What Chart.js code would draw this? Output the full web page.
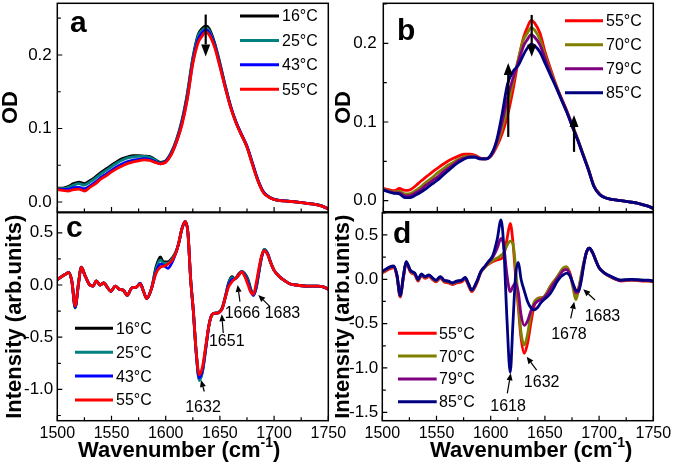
<!DOCTYPE html>
<html><head><meta charset="utf-8">
<script src="https://cdn.jsdelivr.net/npm/chart.js@4.4.1/dist/chart.umd.min.js"></script>
<style>
html,body{margin:0;padding:0;background:#fff;}
#wrap{position:relative;width:675px;height:469px;overflow:hidden;background:#fff;}
canvas{position:absolute;}
</style></head><body>
<div id="wrap">
<canvas id="ca" width="350" height="213" style="left:0px;top:0px;width:350px;height:213px"></canvas>
<canvas id="cb" width="340" height="213" style="left:335px;top:0px;width:340px;height:213px"></canvas>
<canvas id="cc" width="350" height="264" style="left:0px;top:205px;width:350px;height:264px"></canvas>
<canvas id="cd" width="340" height="264" style="left:335px;top:205px;width:340px;height:264px"></canvas>
</div>
<script>
// ---------- data ----------
const wnTop = [1500,1505,1510,1515,1520,1525,1530,1535,1540,1545,1550,1555,1560,1565,1570,1575,1580,1585,1590,1595,1600,1605,1610,1615,1620,1625,1630,1633,1637,1640,1645,1650,1655,1660,1665,1670,1675,1680,1685,1690,1695,1700,1705,1710,1715,1720,1725,1730,1735,1740,1745,1750];

const odA16 = [0.019,0.019,0.021,0.025,0.027,0.025,0.029,0.034,0.040,0.045,0.050,0.055,0.059,0.0615,0.063,0.063,0.0625,0.062,0.058,0.054,0.056,0.067,0.085,0.111,0.148,0.196,0.228,0.235,0.2395,0.236,0.217,0.189,0.158,0.130,0.108,0.091,0.075,0.052,0.030,0.014,0.0072,0.0036,0.0022,0.0015,0.0008,0.0001,-0.0006,-0.0019,-0.0026,-0.0039,-0.0059,-0.0095];
const odA25 = [0.018,0.018,0.0195,0.023,0.025,0.023,0.027,0.032,0.038,0.043,0.048,0.053,0.057,0.060,0.0615,0.062,0.062,0.061,0.057,0.053,0.055,0.066,0.084,0.109,0.146,0.194,0.226,0.2325,0.237,0.2335,0.215,0.187,0.157,0.129,0.108,0.091,0.075,0.052,0.030,0.014,0.0071,0.0035,0.0021,0.0015,0.0008,0.0001,-0.0006,-0.0019,-0.0026,-0.0039,-0.0059,-0.0095];
const odA43 = [0.017,0.017,0.017,0.0195,0.020,0.018,0.022,0.027,0.033,0.038,0.043,0.048,0.052,0.055,0.057,0.058,0.059,0.058,0.055,0.052,0.055,0.065,0.082,0.107,0.142,0.190,0.221,0.229,0.234,0.2305,0.213,0.186,0.156,0.129,0.108,0.092,0.076,0.053,0.030,0.014,0.0070,0.0035,0.0021,0.0015,0.0008,0.0001,-0.0006,-0.0019,-0.0026,-0.0039,-0.0059,-0.0095];
const odA55 = [0.0167,0.0157,0.0148,0.017,0.0175,0.0148,0.0198,0.0246,0.031,0.0355,0.041,0.0454,0.049,0.0526,0.0546,0.056,0.0574,0.0567,0.054,0.052,0.054,0.064,0.082,0.105,0.140,0.188,0.217,0.2245,0.231,0.2275,0.211,0.184,0.155,0.128,0.107,0.091,0.0746,0.051,0.029,0.013,0.0068,0.0034,0.002,0.0014,0.0007,0,-0.0007,-0.002,-0.0027,-0.004,-0.006,-0.0096];

const odB55 = [0.0157,0.014,0.0127,0.0155,0.013,0.014,0.019,0.025,0.0305,0.036,0.041,0.046,0.0505,0.054,0.057,0.059,0.059,0.0575,0.054,0.053,0.057,0.0686,0.085,0.108,0.140,0.178,0.208,0.219,0.229,0.226,0.213,0.188,0.167,0.147,0.130,0.114,0.096,0.078,0.059,0.040,0.019,0.009,0.004,0.002,0.001,0.000,-0.001,-0.002,-0.003,-0.005,-0.007,-0.0097];
const odB70 = [0.015,0.0125,0.011,0.012,0.0085,0.009,0.013,0.018,0.024,0.029,0.035,0.040,0.045,0.049,0.053,0.056,0.057,0.0565,0.0535,0.053,0.058,0.071,0.092,0.119,0.150,0.180,0.205,0.212,0.220,0.217,0.205,0.184,0.164,0.146,0.129,0.113,0.095,0.078,0.059,0.040,0.019,0.009,0.004,0.002,0.001,0.000,-0.001,-0.002,-0.003,-0.005,-0.007,-0.0097];
const odB79 = [0.014,0.012,0.010,0.010,0.006,0.0065,0.010,0.0145,0.020,0.025,0.030,0.036,0.041,0.046,0.051,0.054,0.056,0.056,0.053,0.053,0.058,0.074,0.100,0.131,0.155,0.176,0.197,0.204,0.211,0.208,0.198,0.180,0.161,0.145,0.129,0.113,0.095,0.077,0.058,0.039,0.0185,0.0085,0.004,0.002,0.001,0.000,-0.001,-0.002,-0.003,-0.005,-0.007,-0.0097];
const odB85 = [0.0136,0.011,0.0094,0.0085,0.004,0.004,0.0072,0.011,0.0157,0.021,0.026,0.032,0.038,0.044,0.049,0.053,0.055,0.055,0.053,0.053,0.059,0.077,0.110,0.148,0.164,0.172,0.186,0.193,0.199,0.197,0.189,0.174,0.159,0.144,0.128,0.112,0.094,0.077,0.058,0.039,0.018,0.008,0.004,0.002,0.001,0.000,-0.001,-0.002,-0.003,-0.005,-0.007,-0.0097];

const wnBot = [1500,1504,1507,1510.5,1513.5,1516.5,1519.5,1522,1526,1530,1533,1536,1539.5,1543,1546,1549.5,1553.5,1557,1561,1564.5,1568.5,1573,1576.5,1579.5,1582.5,1587,1591,1595,1598,1602,1606,1609.5,1612,1615,1618,1620.5,1623,1625.5,1628,1631,1634,1637,1640,1643,1646,1649,1652,1655,1658,1661,1664,1667,1670,1673,1676,1678.5,1681,1683.5,1686,1688.5,1691,1694,1697,1700,1705,1710,1715,1720,1730,1740,1746,1750];

const dC16 = [0.05,0.08,0.10,0.12,0.03,-0.22,0.01,0.17,0.08,0.00,-0.01,0.04,0.00,0.02,-0.02,-0.06,-0.01,-0.04,-0.05,-0.10,-0.03,-0.02,0.015,-0.06,-0.13,-0.03,0.17,0.27,0.22,0.22,0.26,0.32,0.40,0.54,0.60,0.50,0.06,-0.25,-0.63,-0.90,-0.82,-0.60,-0.38,-0.28,-0.27,-0.26,-0.22,-0.11,0.02,0.08,0.06,0.10,0.13,0.11,0.05,-0.04,-0.09,-0.03,0.12,0.27,0.34,0.30,0.21,0.14,0.08,0.04,0.01,0.00,-0.01,-0.01,-0.02,-0.04];
const dC25 = [0.05,0.08,0.10,0.12,0.03,-0.215,0.01,0.17,0.08,0.00,-0.01,0.04,0.00,0.02,-0.02,-0.06,-0.01,-0.04,-0.05,-0.10,-0.03,-0.02,0.015,-0.06,-0.13,-0.03,0.15,0.24,0.21,0.21,0.25,0.32,0.40,0.54,0.61,0.50,0.06,-0.25,-0.63,-0.915,-0.83,-0.61,-0.38,-0.28,-0.27,-0.26,-0.225,-0.115,0.01,0.07,0.06,0.09,0.13,0.10,0.04,-0.05,-0.10,-0.02,0.13,0.27,0.34,0.30,0.21,0.14,0.08,0.04,0.01,0.00,-0.01,-0.01,-0.02,-0.04];
const dC43 = [0.05,0.08,0.10,0.12,0.03,-0.21,0.01,0.17,0.08,0.00,-0.01,0.04,0.00,0.02,-0.02,-0.06,-0.01,-0.04,-0.05,-0.10,-0.03,-0.02,0.015,-0.06,-0.13,-0.03,0.12,0.20,0.19,0.16,0.22,0.31,0.40,0.54,0.61,0.50,0.06,-0.25,-0.63,-0.89,-0.81,-0.60,-0.38,-0.28,-0.27,-0.265,-0.23,-0.12,0.00,0.05,0.06,0.09,0.125,0.09,0.02,-0.06,-0.10,-0.01,0.14,0.27,0.33,0.30,0.21,0.14,0.08,0.04,0.01,0.00,-0.01,-0.01,-0.02,-0.04];
const dC55 = [0.05,0.08,0.10,0.12,0.03,-0.20,0.01,0.17,0.08,0.00,-0.01,0.04,0.00,0.02,-0.02,-0.06,-0.01,-0.04,-0.05,-0.10,-0.03,-0.02,0.01,-0.06,-0.13,-0.03,0.11,0.17,0.18,0.20,0.24,0.31,0.40,0.54,0.61,0.50,0.06,-0.25,-0.62,-0.86,-0.78,-0.58,-0.38,-0.28,-0.27,-0.265,-0.23,-0.12,-0.02,0.03,0.06,0.09,0.125,0.08,0.00,-0.07,-0.09,0.02,0.16,0.28,0.33,0.29,0.21,0.14,0.08,0.04,0.01,0.00,-0.01,-0.01,-0.02,-0.04];

const dD55 = [0.07,0.10,0.12,0.13,0.03,-0.20,0.02,0.18,0.08,0.05,-0.02,0.04,0.01,0.03,0.00,-0.03,0.01,-0.03,-0.04,-0.06,-0.04,-0.03,0.00,-0.07,-0.14,-0.05,0.08,0.14,0.17,0.20,0.22,0.23,0.27,0.45,0.63,0.42,0.03,-0.32,-0.66,-0.835,-0.72,-0.50,-0.30,-0.22,-0.21,-0.20,-0.15,-0.08,-0.03,0.02,0.07,0.12,0.14,0.07,-0.07,-0.16,-0.10,0.03,0.19,0.31,0.35,0.30,0.21,0.13,0.07,0.03,0.00,-0.02,-0.01,-0.02,-0.02,-0.03];
const dD70 = [0.08,0.11,0.13,0.14,0.04,-0.19,0.03,0.19,0.09,0.06,-0.01,0.05,0.02,0.04,0.01,-0.02,0.02,-0.02,-0.03,-0.05,-0.03,-0.02,0.01,-0.06,-0.13,-0.04,0.08,0.14,0.18,0.21,0.24,0.27,0.30,0.38,0.43,0.40,0.13,-0.25,-0.60,-0.74,-0.62,-0.40,-0.26,-0.22,-0.21,-0.20,-0.15,-0.08,-0.03,0.02,0.08,0.13,0.14,0.06,-0.10,-0.23,-0.12,0.05,0.20,0.31,0.35,0.30,0.21,0.13,0.07,0.03,0.00,-0.01,-0.01,-0.01,-0.02,-0.02];
const dD79 = [0.085,0.115,0.135,0.145,0.045,-0.185,0.035,0.195,0.095,0.065,-0.005,0.055,0.025,0.045,0.015,-0.015,0.025,-0.015,-0.025,-0.045,-0.025,-0.015,0.015,-0.055,-0.125,-0.035,0.09,0.15,0.20,0.25,0.35,0.46,0.38,0.05,-0.14,-0.08,-0.04,-0.15,-0.40,-0.52,-0.47,-0.36,-0.29,-0.25,-0.23,-0.21,-0.17,-0.11,-0.05,0.00,0.05,0.10,0.11,0.06,-0.06,-0.15,-0.14,0.00,0.18,0.31,0.35,0.30,0.21,0.13,0.07,0.035,0.005,-0.015,-0.005,-0.015,-0.015,-0.025];
const dD85 = [0.09,0.12,0.14,0.15,0.05,-0.18,0.04,0.20,0.10,0.07,0.00,0.06,0.03,0.05,0.02,-0.01,0.03,-0.01,-0.02,-0.04,-0.02,-0.01,0.02,-0.05,-0.12,-0.03,0.09,0.15,0.20,0.27,0.45,0.67,0.38,-0.45,-1.05,-0.50,0.05,0.19,0.00,-0.13,-0.25,-0.32,-0.345,-0.32,-0.27,-0.23,-0.20,-0.16,-0.10,-0.03,0.02,0.05,0.07,0.04,-0.05,-0.12,-0.13,-0.02,0.17,0.31,0.35,0.30,0.21,0.13,0.07,0.04,0.01,-0.01,0.00,-0.01,-0.01,-0.02];

const labelsA = ['16°C','25°C','43°C','55°C'];
const labelsB = ['55°C','70°C','79°C','85°C'];
const xTickLabels = [1500,1550,1600,1650,1700,1750];

// peak annotations: [text, labelX, labelY, tailX, tailY, tipX, tipY] (data units)
const notesC = [
  ['1632',1634.4,-1.175,1635.6,-1.02,1632.6,-0.91],
  ['1651',1656.3,-0.54,1653.1,-0.46,1651.7,-0.28],
  ['1666',1670.8,-0.278,1668.5,-0.16,1666.4,0.0],
  ['1683',1707.7,-0.278,1696.2,-0.207,1685.4,-0.095]
];
const notesD = [
  ['1618',1616,-1.438,1615.3,-1.287,1618.5,-1.06],
  ['1632',1647,-1.168,1642.4,-1.025,1633.2,-0.874],
  ['1678',1672.2,-0.628,1673.8,-0.44,1677.1,-0.253],
  ['1683',1703.1,-0.422,1696.2,-0.234,1685.4,-0.113]
];
// trend arrows: [x, fromY, toY]
const trendA = [[1636.9,0.255,0.198]];
const trendB = [[1637.4,0.236,0.183],[1615.7,0.081,0.175],[1676.6,0.062,0.109]];

// ---------- drawing ----------
const FONT = '"Liberation Sans", Arial, Helvetica, sans-serif';

function arrow(ctx, x0, y0, x1, y1, hl, hw, lw) {
  const a = Math.atan2(y1 - y0, x1 - x0);
  const bx = x1 - hl * Math.cos(a), by = y1 - hl * Math.sin(a);
  ctx.lineWidth = lw;
  ctx.beginPath(); ctx.moveTo(x0, y0); ctx.lineTo(bx, by); ctx.stroke();
  ctx.beginPath(); ctx.moveTo(x1, y1);
  ctx.lineTo(bx + hw * Math.sin(a), by - hw * Math.cos(a));
  ctx.lineTo(bx - hw * Math.sin(a), by + hw * Math.cos(a));
  ctx.closePath(); ctx.fill();
}

const deco = {
  id: 'deco',
  afterDatasetsDraw(chart, args, o) {
    const ctx = chart.ctx, ca = chart.chartArea, x = chart.scales.x, y = chart.scales.y;
    ctx.save();
    ctx.strokeStyle = '#000'; ctx.fillStyle = '#000';
    // inward ticks
    ctx.lineWidth = 1.2;
    ctx.beginPath();
    const h = o.yStep / 2;
    for (let k = Math.ceil(y.min / h - 1e-6); k * h <= y.max + 1e-9; k++) {
      const py = y.getPixelForValue(k * h);
      const len = (k % 2 === 0) ? 5 : 3.5;
      ctx.moveTo(ca.left, py); ctx.lineTo(ca.left + len, py);
    }
    for (let k = 0; k <= 10; k++) {
      const px = x.getPixelForValue(1500 + 25 * k);
      const len = (k % 2 === 0) ? 5 : 3.5;
      ctx.moveTo(px, ca.bottom); ctx.lineTo(px, ca.bottom - len);
    }
    ctx.stroke();
    // frame
    ctx.lineWidth = 1.5;
    ctx.strokeRect(ca.left, ca.top, ca.right - ca.left, ca.bottom - ca.top);
    // legend
    const L = o.legend;
    chart.data.datasets.forEach((ds, i) => {
      const yy = L.y0 + i * L.dy;
      ctx.strokeStyle = ds.borderColor; ctx.lineWidth = 3;
      ctx.beginPath(); ctx.moveTo(L.x0, yy); ctx.lineTo(L.x1, yy); ctx.stroke();
      ctx.fillStyle = '#000'; ctx.font = '16px ' + FONT;
      ctx.textAlign = 'left'; ctx.textBaseline = 'middle';
      ctx.fillText(ds.label, L.tx, yy + 1);
    });
    ctx.strokeStyle = '#000'; ctx.fillStyle = '#000';
    // trend arrows
    (o.trend || []).forEach(t => {
      const px = x.getPixelForValue(t[0]);
      arrow(ctx, px, y.getPixelForValue(t[1]), px, y.getPixelForValue(t[2]), 12, 4.5, 2.2);
    });
    // peak notes
    (o.notes || []).forEach(n => {
      arrow(ctx, x.getPixelForValue(n[3]), y.getPixelForValue(n[4]),
                 x.getPixelForValue(n[5]), y.getPixelForValue(n[6]), 7, 3, 1.2);
      ctx.font = '16px ' + FONT; ctx.textAlign = 'center'; ctx.textBaseline = 'middle';
      ctx.fillText(n[0], x.getPixelForValue(n[1]), y.getPixelForValue(n[2]));
    });
    // panel letter
    ctx.font = 'bold 30px ' + FONT; ctx.textAlign = 'left'; ctx.textBaseline = 'alphabetic';
    ctx.fillText(o.letter[0], o.letter[1], o.letter[2]);
    // y title
    ctx.save();
    ctx.translate(o.ytitle[1], o.ytitle[2]); ctx.rotate(-Math.PI / 2);
    ctx.font = 'bold 22px ' + FONT; ctx.textAlign = 'center'; ctx.textBaseline = 'middle';
    ctx.fillText(o.ytitle[0], 0, 0);
    ctx.restore();
    // x title
    if (o.xtitle) {
      let xx = o.xtitle[0]; const yb = o.xtitle[1];
      ctx.textAlign = 'left'; ctx.textBaseline = 'alphabetic';
      ctx.font = 'bold 22px ' + FONT;
      ctx.fillText('Wavenumber (cm', xx, yb); xx += ctx.measureText('Wavenumber (cm').width;
      ctx.font = 'bold 14px ' + FONT;
      ctx.fillText('-1', xx, yb - 10); xx += ctx.measureText('-1').width;
      ctx.font = 'bold 22px ' + FONT;
      ctx.fillText(')', xx, yb);
    }
    ctx.restore();
  }
};

function makeChart(id, c) {
  const datasets = c.series.map((s, i) => ({
    label: s[0],
    data: c.wn.map((w, j) => ({x: w, y: s[1][j]})),
    borderColor: s[2], backgroundColor: s[2],
    borderWidth: 2.8, pointRadius: 0, fill: false,
    cubicInterpolationMode: 'monotone',
    order: c.series.length - i
  }));
  const xs = {
    type: 'linear', min: 1500, max: 1750, display: c.showX,
    grid: {display: false, drawTicks: false}, border: {display: false},
    ticks: {stepSize: 50, padding: 3, color: '#000', font: {family: FONT, size: 16},
            maxRotation: 0, autoSkip: false,
            callback: v => (xTickLabels.includes(v) ? String(v) : '')}
  };
  if (c.showX) xs.afterFit = s => { s.height = c.xH; s.paddingLeft = 0; s.paddingRight = 0; s.paddingTop = 0; s.paddingBottom = 0; };
  return new Chart(document.getElementById(id), {
    type: 'line',
    data: {datasets},
    options: {
      responsive: false, animation: false, devicePixelRatio: 1,
      layout: {padding: c.pad},
      plugins: {legend: {display: false}, tooltip: {enabled: false}, deco: c.deco},
      scales: {
        x: xs,
        y: {
          type: 'linear', min: c.yMin, max: c.yMax,
          grid: {display: false, drawTicks: false}, border: {display: false},
          ticks: {stepSize: c.yStep, includeBounds: false, padding: c.yPad, color: '#000',
                  font: {family: FONT, size: 17}, callback: v => v.toFixed(1)},
          afterFit: s => { s.width = c.yW; s.paddingLeft = 0; s.paddingRight = 0; s.paddingTop = 0; s.paddingBottom = 0; }
        }
      }
    },
    plugins: [deco]
  });
}

makeChart('ca', {
  wn: wnTop,
  series: [[labelsA[0], odA16, '#000000'], [labelsA[1], odA25, '#008080'], [labelsA[2], odA43, '#0000ff'], [labelsA[3], odA55, '#ff0000']],
  showX: false, yMin: -0.0136, yMax: 0.2703, yStep: 0.1, yW: 57.3, yPad: 5.5,
  pad: {left: 0, top: 3.3, right: 21.7, bottom: 1},
  deco: {yStep: 0.1, legend: {x0: 240, x1: 279, tx: 282, y0: 16, dy: 24.4},
         trend: trendA, letter: ['a', 70, 32], ytitle: ['OD', 11, 107.5]}
});
makeChart('cb', {
  wn: wnTop,
  series: [[labelsB[0], odB55, '#ff0000'], [labelsB[1], odB70, '#808000'], [labelsB[2], odB79, '#800080'], [labelsB[3], odB85, '#000080']],
  showX: false, yMin: -0.014, yMax: 0.2508, yStep: 0.1, yW: 48.3, yPad: 6.5,
  pad: {left: 0, top: 3.3, right: 21.7, bottom: 1.3},
  deco: {yStep: 0.1, legend: {x0: 230, x1: 268, tx: 271, y0: 20.7, dy: 24},
         trend: trendB, letter: ['b', 62, 40], ytitle: ['OD', 9, 107.5]}
});
makeChart('cc', {
  wn: wnBot,
  series: [[labelsA[0], dC16, '#000000'], [labelsA[1], dC25, '#008080'], [labelsA[2], dC43, '#0000ff'], [labelsA[3], dC55, '#ff0000']],
  showX: true, xH: 48.3, yMin: -1.30, yMax: 0.6925, yStep: 0.5, yW: 57.3, yPad: 4,
  pad: {left: 0, top: 7.7, right: 21.7, bottom: 0},
  deco: {yStep: 0.5, legend: {x0: 75, x1: 113, tx: 116, y0: 123.3, dy: 23.9},
         notes: notesC, letter: ['c', 66, 31.5], ytitle: ['Intensity (arb.units)', 15, 111.7],
         xtitle: [78, 252]}
});
makeChart('cd', {
  wn: wnBot,
  series: [[labelsB[0], dD55, '#ff0000'], [labelsB[1], dD70, '#808000'], [labelsB[2], dD79, '#800080'], [labelsB[3], dD85, '#000080']],
  showX: true, xH: 48.3, yMin: -1.595, yMax: 0.751, yStep: 0.5, yW: 47.3, yPad: 4,
  pad: {left: 0, top: 7.7, right: 21.7, bottom: 0},
  deco: {yStep: 0.5, legend: {x0: 63, x1: 101.7, tx: 104, y0: 128.3, dy: 22.8},
         notes: notesD, letter: ['d', 58, 38.3], ytitle: ['Intensity (arb.units)', 8, 111.7],
         xtitle: [95, 252]}
});
</script>
</body></html>
